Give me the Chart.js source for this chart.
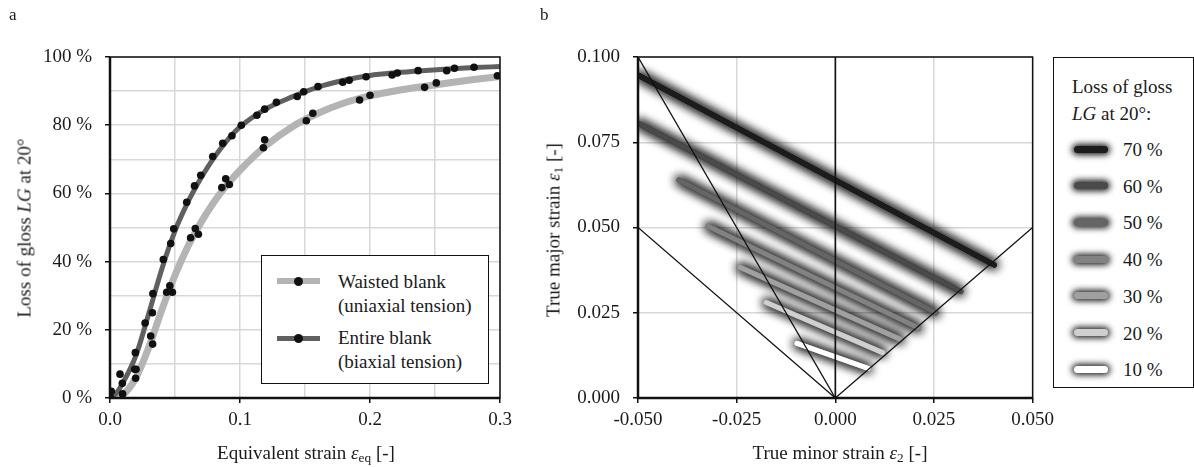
<!DOCTYPE html>
<html><head><meta charset="utf-8">
<script src="https://cdn.jsdelivr.net/npm/chart.js@4"></script>
<style>
body{margin:0;background:#fff;font-family:"Liberation Serif","DejaVu Serif",serif;color:#1a1a1a;}
#wrap{position:relative;width:1194px;height:467px;overflow:hidden;}
.abs{position:absolute;white-space:nowrap;font-size:19px;line-height:1;}
.ctr{transform:translate(-50%,-50%);}
.rot{transform:translate(-50%,-50%) rotate(-90deg);}
#c1wrap{position:absolute;left:0;top:0;width:520px;height:467px;}
#c2wrap{position:absolute;left:520px;top:0;width:540px;height:467px;}
.box{position:absolute;border:1.5px solid #111;background:#fff;box-sizing:border-box;}
.lsym{position:absolute;width:43px;}
.dot{position:absolute;width:9px;height:9px;border-radius:50%;background:#111;left:17px;}
.gsym{position:absolute;width:34px;height:7px;border-radius:3.5px;box-shadow:0 0 6px 2px rgba(0,0,0,0.9);}
sub{font-size:70%;vertical-align:-0.25em;line-height:0;}
</style></head>
<body><div id="wrap">
<div id="c1wrap"><canvas id="c1"></canvas></div>
<div id="c2wrap"><canvas id="c2"></canvas></div>

<div class="abs" style="left:9px;top:6px;font-size:17px;">a</div>
<div class="abs" style="left:540px;top:6px;font-size:17px;">b</div>

<div class="abs ctr" style="left:306px;top:452px;">Equivalent strain <i>ε</i><sub>eq</sub> [-]</div>
<div class="abs rot" style="left:24px;top:228px;">Loss of gloss <i>LG</i> at 20°</div>
<div class="abs ctr" style="left:840px;top:452px;">True minor strain <i>ε</i><sub>2</sub> [-]</div>
<div class="abs rot" style="left:553px;top:230px;">True major strain <i>ε</i><sub>1</sub> [-]</div>

<div class="box" style="left:261px;top:255px;width:228px;height:129px;">
  <div class="lsym" style="left:15px;top:22px;height:6px;background:#b4b4b4;"><div class="dot" style="top:-1.5px;"></div></div>
  <div class="abs" style="left:76px;top:14px;line-height:24px;">Waisted blank<br>(uniaxial tension)</div>
  <div class="lsym" style="left:15px;top:80px;height:5px;background:#606060;"><div class="dot" style="top:-2px;"></div></div>
  <div class="abs" style="left:76px;top:70px;line-height:24px;">Entire blank<br>(biaxial tension)</div>
</div>

<div class="box" style="left:1053px;top:57px;width:141px;height:331px;">
  <div class="abs" style="left:18px;top:15px;line-height:27px;">Loss of gloss<br><i>LG</i> at 20°:</div>
  <div id="lg2"></div>
</div>

<script>
// ---------- Data: panel a ----------
const entireFitX = [0, 0.005, 0.01, 0.02, 0.03, 0.04, 0.05, 0.06, 0.07, 0.08, 0.09, 0.1, 0.12, 0.14, 0.16, 0.18, 0.2, 0.22, 0.24, 0.26, 0.28, 0.3];
const entireFitY = [0, 1.5, 4.5, 12.5, 25, 38, 49, 57.5, 64.5, 70.5, 75.5, 79.5, 84.8, 88.3, 91.2, 93.2, 94.6, 95.4, 96.0, 96.5, 96.9, 97.2];
const waistedFitX = [0, 0.01, 0.02, 0.03, 0.04, 0.05, 0.06, 0.07, 0.08, 0.09, 0.1, 0.12, 0.14, 0.16, 0.18, 0.2, 0.22, 0.24, 0.26, 0.28, 0.3];
const waistedFitY = [0, 1, 6, 15, 26, 36, 44.5, 51.5, 57.5, 62.5, 66.8, 74, 79.5, 83.5, 86.5, 88.6, 90.1, 91.3, 92.4, 93.4, 94.3];

const entireMeasX = [0, 0.001, 0.0077, 0.0095, 0.0195, 0.019, 0.027, 0.033, 0.0326, 0.041, 0.0467, 0.049, 0.059, 0.065, 0.0698, 0.079, 0.0867, 0.0938, 0.101, 0.113, 0.119, 0.128, 0.144, 0.149, 0.160, 0.179, 0.184, 0.197, 0.217, 0.221, 0.237, 0.259, 0.265, 0.280];
const entireMeasY = [0.4, 2, 7, 4.3, 13.3, 8.4, 22, 30.6, 25, 40.6, 45.3, 49.6, 57.4, 62.2, 65.3, 70.8, 74.7, 76.9, 80, 82.9, 84.7, 86.7, 88.4, 89.8, 91.3, 92.6, 93.2, 94.2, 94.7, 95.3, 96, 96, 96.7, 97];
const waistedMeasX = [0, 0.0097, 0.0197, 0.02, 0.0313, 0.0328, 0.0436, 0.046, 0.048, 0.062, 0.0656, 0.068, 0.086, 0.089, 0.0918, 0.118, 0.119, 0.151, 0.156, 0.192, 0.2, 0.242, 0.251, 0.298];
const waistedMeasY = [0, 1.2, 5.8, 8.4, 18.2, 15.8, 31, 32.9, 31, 47, 49.7, 48, 61.7, 64.3, 62.6, 73.4, 75.7, 81.3, 83.5, 87.4, 88.8, 91.1, 92.4, 94.5];

const xTicksA = [0, 0.1, 0.2, 0.3];
const yTicksA = [0, 20, 40, 60, 80, 100];

// ---------- Data: panel b ----------
const lgLevels = ['70 %', '60 %', '50 %', '40 %', '30 %', '20 %', '10 %'];
const lgColors = ['#1c1c1c', '#4a4a4a', '#656565', '#828282', '#a0a0a0', '#cfcfcf', '#ffffff'];
const lgStartX = [-0.050, -0.050, -0.0396, -0.0322, -0.0241, -0.0175, -0.0097];
const lgStartY = [0.0947, 0.0806, 0.0639, 0.0504, 0.0383, 0.0280, 0.0160];
const lgEndX   = [0.0403, 0.0318, 0.0255, 0.0211, 0.0165, 0.0120, 0.0083];
const lgEndY   = [0.0390, 0.0312, 0.0250, 0.0205, 0.0172, 0.0133, 0.0087];

const refLinesX = [[0, 0], [0, -0.05], [0, -0.05], [0, 0.05]];
const refLinesY = [[0, 0.1], [0, 0.1], [0, 0.05], [0, 0.05]];

// ---------- helpers ----------
const FONT = {family: '"Liberation Serif", "DejaVu Serif", serif', size: 19};
Chart.defaults.font = FONT;
Chart.defaults.color = '#1a1a1a';
const zip = (xs, ys) => xs.map((x, i) => ({x, y: ys[i]}));
const near = (v, arr) => arr.some(t => Math.abs(t - v) < 1e-9);

const frame = {
  id: 'frame',
  afterDatasetsDraw(chart) {
    const {ctx, chartArea: a} = chart;
    ctx.save();
    ctx.strokeStyle = '#111';
    ctx.lineWidth = 1.5;
    ctx.strokeRect(a.left, a.top, a.right - a.left, a.bottom - a.top);
    ctx.lineWidth = 2.5;
    ctx.beginPath();
    ctx.moveTo(a.left, a.top); ctx.lineTo(a.left, a.bottom); ctx.lineTo(a.right, a.bottom);
    ctx.stroke();
    ctx.restore();
  }
};
const glow = {
  id: 'glow',
  beforeDatasetDraw(chart, args) {
    const ds = chart.data.datasets[args.index];
    if (ds.glow) {
      const ctx = chart.ctx;
      const a = chart.chartArea;
      ctx.save();
      ctx.beginPath();
      ctx.rect(a.left, a.top, a.right - a.left, a.bottom - a.top);
      ctx.clip();
      ctx.shadowColor = 'rgba(0,0,0,1)';
      ctx.shadowBlur = 12;
      args.meta.dataset.draw(ctx, a);
      args.meta.dataset.draw(ctx, a);
      ctx.restore();
      ctx.save();
      ctx.shadowColor = 'rgba(0,0,0,0.9)';
      ctx.shadowBlur = 8;
    }
  },
  afterDatasetDraw(chart, args) {
    if (chart.data.datasets[args.index].glow) chart.ctx.restore();
  }
};

// ---------- Chart a ----------
new Chart(document.getElementById('c1'), {
  type: 'scatter',
  data: {
    datasets: [
      {label: 'Entire meas', data: zip(entireMeasX, entireMeasY), showLine: false, pointRadius: 3.8, pointBackgroundColor: '#111', pointBorderWidth: 0, order: 0},
      {label: 'Waisted meas', data: zip(waistedMeasX, waistedMeasY), showLine: false, pointRadius: 3.8, pointBackgroundColor: '#111', pointBorderWidth: 0, order: 1},
      {label: 'Entire blank', data: zip(entireFitX, entireFitY), showLine: true, borderColor: '#606060', borderWidth: 5, pointRadius: 0, cubicInterpolationMode: 'monotone', order: 2},
      {label: 'Waisted blank', data: zip(waistedFitX, waistedFitY), showLine: true, borderColor: '#b4b4b4', borderWidth: 7, pointRadius: 0, cubicInterpolationMode: 'monotone', order: 3}
    ]
  },
  options: {
    responsive: true, maintainAspectRatio: false, animation: false,
    layout: {padding: {left: 0, top: 57, right: 20, bottom: 0}},
    plugins: {legend: {display: false}, tooltip: {enabled: false}},
    scales: {
      x: {
        type: 'linear', min: 0, max: 0.3,
        afterFit: s => { s.height = 69; },
        border: {display: false},
        grid: {color: '#d8d8d8', lineWidth: 1.5, tickLength: 5,
               tickColor: c => near(c.tick.value, xTicksA) ? '#111' : 'rgba(0,0,0,0)'},
        ticks: {stepSize: 0.05, padding: 6, maxRotation: 0, autoSkip: false,
                callback: v => near(v, xTicksA) ? v.toFixed(1) : ''}
      },
      y: {
        type: 'linear', min: 0, max: 100,
        afterFit: s => { s.width = 110; },
        border: {display: false},
        grid: {color: '#d8d8d8', lineWidth: 1.5, tickLength: 5,
               tickColor: c => near(c.tick.value, yTicksA) ? '#111' : 'rgba(0,0,0,0)'},
        ticks: {stepSize: 10, padding: 13, autoSkip: false,
                callback: v => near(v, yTicksA) ? v + ' %' : ''}
      }
    }
  },
  plugins: [frame]
});

// ---------- Chart b ----------
const dsB = [];
refLinesX.forEach((xs, i) => dsB.push({
  label: 'ref' + i, data: zip(xs, refLinesY[i]), showLine: true, borderColor: '#111',
  borderWidth: i === 0 ? 1.6 : 1.3, pointRadius: 0, order: 0
}));
lgLevels.forEach((lab, i) => dsB.push({
  label: lab, data: zip([lgStartX[i], lgEndX[i]], [lgStartY[i], lgEndY[i]]), showLine: true,
  borderColor: lgColors[i], borderWidth: 5, borderCapStyle: 'round', pointRadius: 0, glow: true, order: 1 + i
}));

new Chart(document.getElementById('c2'), {
  type: 'scatter',
  data: {datasets: dsB},
  options: {
    responsive: true, maintainAspectRatio: false, animation: false,
    layout: {padding: {left: 0, top: 57, right: 17, bottom: 0}},
    plugins: {legend: {display: false}, tooltip: {enabled: false}},
    scales: {
      x: {
        type: 'linear', min: -0.05, max: 0.05,
        afterFit: s => { s.height = 69; },
        border: {display: false},
        grid: {color: '#d8d8d8', lineWidth: 1.5, tickLength: 5, tickColor: '#111'},
        ticks: {stepSize: 0.025, padding: 6, maxRotation: 0, autoSkip: false,
                callback: v => v.toFixed(3)}
      },
      y: {
        type: 'linear', min: 0, max: 0.1,
        afterFit: s => { s.width = 118; },
        border: {display: false},
        grid: {color: '#d8d8d8', lineWidth: 1.5, tickLength: 5, tickColor: '#111'},
        ticks: {stepSize: 0.025, padding: 13, autoSkip: false,
                callback: v => v.toFixed(3)}
      }
    }
  },
  plugins: [glow, frame]
});

// ---------- legend b ----------
const lg2 = document.getElementById('lg2');
lgLevels.forEach((lab, i) => {
  const top = 91 + i * 36.7;
  const s = document.createElement('div');
  s.className = 'gsym';
  s.style.left = '20px'; s.style.top = (top - 3.5) + 'px'; s.style.background = lgColors[i];
  lg2.appendChild(s);
  const t = document.createElement('div');
  t.className = 'abs';
  t.style.left = '69px'; t.style.top = (top - 9) + 'px';
  t.textContent = lab;
  lg2.appendChild(t);
});
</script>
</div></body></html>
